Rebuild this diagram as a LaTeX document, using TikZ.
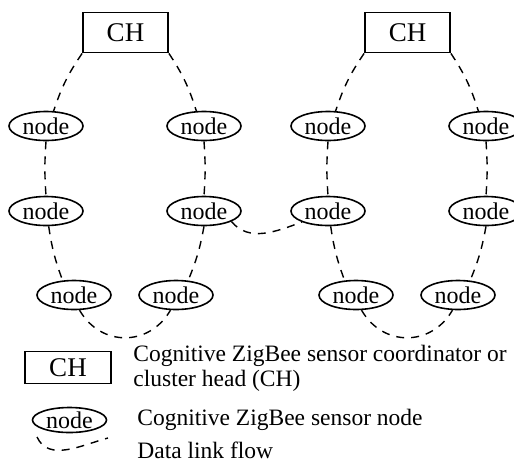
\documentclass[tikz,border=0pt]{standalone}
\usepackage{fontspec}
\setmainfont{Liberation Serif}
\usepackage{tikz}
\usetikzlibrary{shapes.geometric}

\tikzset{
  chbox/.style={draw, rectangle, line width=0.9pt, minimum width=42.5pt, minimum height=20pt, inner sep=0pt, font=\fontsize{13.5}{16}\selectfont},
  sensor/.style={draw, ellipse, line width=0.8pt, minimum width=37pt, minimum height=14.5pt, inner sep=0pt, font=\fontsize{12}{14}\selectfont},
  link/.style={line width=0.7pt, dash pattern=on 4pt off 3.5pt},
  legtext/.style={anchor=west, inner sep=0pt, align=left, font=\fontsize{11.75}{12.5}\selectfont}
}

\begin{document}
\begin{tikzpicture}[x=0.5pt,y=0.5pt]
\useasboundingbox (0,0) rectangle (514,-467);

\foreach \c/\dx in {1/0,2/282} {
  \node[chbox] (ch\c) at (125.5+\dx,-32.5) {CH};
  \node[sensor] (tl\c) at (46+\dx,-126) {node};
  \node[sensor] (tr\c) at (204+\dx,-126) {node};
  \node[sensor] (ml\c) at (46+\dx,-211) {node};
  \node[sensor] (mr\c) at (204+\dx,-211) {node};
  \node[sensor] (bl\c) at (74+\dx,-295) {node};
  \node[sensor] (br\c) at (176+\dx,-295) {node};

  \draw[link] (ch\c.south west) to[bend right=8] (tl\c.63);
  \draw[link] (ch\c.south east) to[bend left=8] (tr\c.117);
  \draw[link] (tl\c.south) to[bend right=4] (ml\c.north);
  \draw[link] (tr\c.south) to[bend left=4] (mr\c.north);
  \draw[link] (ml\c.-80) to[bend right=6] (bl\c.128);
  \draw[link] (mr\c.-90) to[bend left=6] (br\c.50);
  \draw[link] (bl\c.-70) to[out=-60,in=-120,looseness=1.2] (br\c.-110);
}
\draw[link] (mr1.-21) to[out=-50,in=-160] (ml2.-157);

% legend
\node[chbox, minimum width=43pt, minimum height=16pt] (legch) at (68,-367.5) {CH};
\node[sensor, minimum width=37pt, minimum height=12.5pt] (legsn) at (69.5,-420) {node};
\coordinate (lega) at (37,-437);
\coordinate (legb) at (108,-438);
\draw[link] (lega) to[out=-65,in=195] (legb);

\node[legtext] (legt1) at (133,-368) {Cognitive ZigBee sensor coordinator or\\cluster head (CH)};
\node[legtext] (legt2) at (137,-420) {Cognitive ZigBee sensor node};
\node[legtext] (legt3) at (137,-450) {Data link flow};
\end{tikzpicture}
\end{document}
